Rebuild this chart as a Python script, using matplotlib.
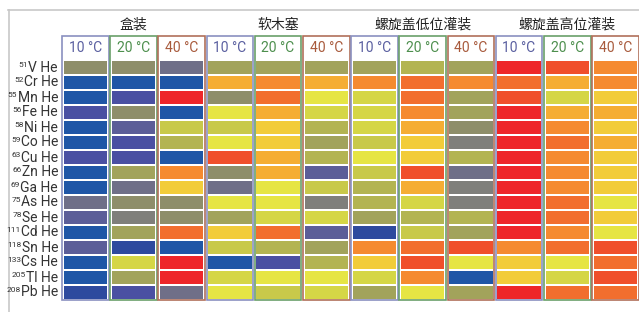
import matplotlib
matplotlib.use('Agg')
import matplotlib.pyplot as plt
from matplotlib.patches import Rectangle
from matplotlib.colors import ListedColormap, BoundaryNorm

plt.rcParams['font.family'] = ['Roboto', 'DejaVu Sans']

# ---- data (score levels 0 = low/blue ... 17 = high/red) ----
elements = ['V', 'Cr', 'Mn', 'Fe', 'Ni', 'Co', 'Cu', 'Zn',
            'Ga', 'As', 'Se', 'Cd', 'Sn', 'Cs', 'Tl', 'Pb']
masses = [51, 52, 55, 56, 58, 59, 63, 66, 69, 75, 78, 111, 118, 133, 205, 208]
groups = ['盒装', '软木塞', '螺旋盖低位灌装', '螺旋盖高位灌装']
temps = ['10 °C', '20 °C', '40 °C']

box = [
    [6, 0, 0, 2, 0, 0, 2, 0, 0, 4, 3, 0, 3, 0, 0, 1],
    [6, 0, 2, 6, 3, 2, 2, 7, 4, 6, 5, 7, 1, 10, 7, 2],
    [4, 0, 17, 0, 9, 8, 0, 14, 12, 6, 6, 15, 0, 17, 17, 4],
]
cork = [
    [7, 13, 6, 11, 9, 11, 16, 6, 4, 11, 7, 12, 9, 0, 10, 11],
    [7, 14, 15, 13, 12, 12, 13, 13, 11, 11, 10, 15, 8, 2, 11, 9],
    [7, 13, 11, 10, 8, 7, 8, 3, 9, 5, 10, 3, 7, 8, 11, 10],
]
screw_low = [
    [7, 14, 10, 10, 10, 9, 11, 9, 8, 8, 7, 1, 14, 12, 10, 7],
    [8, 15, 15, 14, 13, 12, 12, 16, 13, 10, 8, 9, 15, 16, 14, 11],
    [7, 14, 7, 7, 6, 5, 8, 4, 5, 5, 8, 7, 16, 11, 0, 7],
]
screw_high = [
    [17, 15, 16, 17, 17, 17, 17, 17, 17, 17, 17, 17, 14, 12, 12, 17],
    [16, 13, 10, 13, 14, 15, 14, 14, 14, 15, 15, 14, 15, 11, 10, 15],
    [14, 14, 12, 13, 12, 13, 12, 12, 12, 11, 12, 11, 16, 15, 16, 15],
]

level_colors = ['#1f56a6', '#2e4a9e', '#4a50a2', '#5c5e98', '#6f6f88', '#7f7f7b',
                '#8e8e6a', '#a2a35b', '#b3b452', '#c8c94a', '#d5d646', '#e6e544',
                '#f2cc3a', '#f5ad33', '#f58a30', '#f26e2e', '#f04f2b', '#ee2629']
temp_text = ['#5a5fa0', '#4d8f4d', '#a85a3c']
temp_edge = ['#8a90c0', '#6aa06a', '#b0705a']

cmap = ListedColormap(level_colors)
norm = BoundaryNorm([i - 0.5 for i in range(len(level_colors) + 1)], cmap.N)

# ---- layout (pixel units) ----
W, H = 639, 312
x0, pitch, box_w = 62, 48.2, 46.5
box_top, cell_top, row_h = 36, 60, 15

fig = plt.figure(figsize=(W / 100, H / 100), dpi=100)
ax = fig.add_axes([0, 0, 1, 1])
ax.set_xlim(0, W)
ax.set_ylim(H, 0)
ax.axis('off')

# outer frame (top + left)
ax.plot([8, W], [10, 10], color='#c8c8c8', lw=1.2)
ax.plot([9, 9], [10, H], color='#c8c8c8', lw=1.2)

all_cols = [box, cork, screw_low, screw_high]
n_rows = len(elements)
box_bottom = cell_top + n_rows * row_h

for g, (gname, gdata) in enumerate(zip(groups, all_cols)):
    gx_left = x0 + 3 * g * pitch
    ax.text(gx_left + (2 * pitch + box_w) / 2, 25, gname, ha='center', va='center',
            fontsize=10, color='#222222', family=['Noto Sans CJK SC', 'DejaVu Sans'])
    for t, vals in enumerate(gdata):
        cx = gx_left + t * pitch
        ax.add_patch(Rectangle((cx, box_top), box_w, box_bottom - box_top,
                               facecolor='white', edgecolor=temp_edge[t], lw=1.2, zorder=1))
        ax.text(cx + box_w / 2, 48, temps[t], ha='center', va='center',
                fontsize=10, color=temp_text[t])
        for r, v in enumerate(vals):
            ax.add_patch(Rectangle((cx + 1.5, cell_top + r * row_h + 0.8), box_w - 3, row_h - 1.6,
                                   facecolor=cmap(norm(v)), edgecolor='none', zorder=2))

# row labels: element name + small superscript mass number
renderer = fig.canvas.get_renderer()
for r, (el, m) in enumerate(zip(elements, masses)):
    yc = cell_top + (r + 0.5) * row_h
    t = ax.text(58, yc, f'{el} He', ha='right', va='center', fontsize=10, color='#333333')
    bb = t.get_window_extent(renderer).transformed(ax.transData.inverted())
    ax.text(min(bb.x0, bb.x1) - 0.2, yc - 2.7, str(m), ha='right', va='center',
            fontsize=6, color='#333333')

fig.savefig('out.png', dpi=100)
